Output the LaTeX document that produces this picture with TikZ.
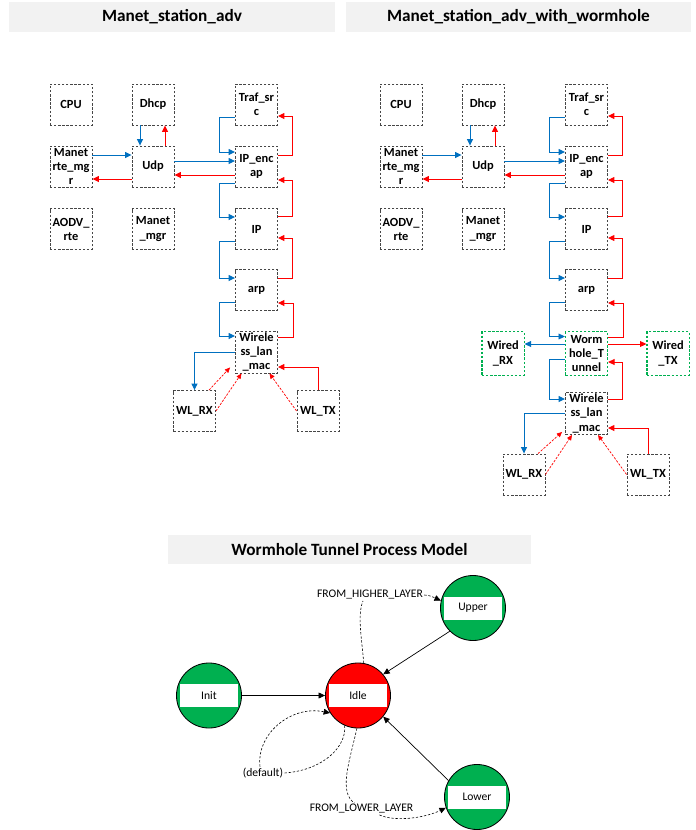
\documentclass[tikz,border=0pt]{standalone}
\usepackage{fontspec}
\setmainfont{Carlito}
\usetikzlibrary{arrows.meta,calc}
\definecolor{lineblue}{RGB}{0,112,192}
\definecolor{linered}{RGB}{255,0,0}
\definecolor{stgreen}{RGB}{0,176,80}
\definecolor{titlebg}{RGB}{242,242,242}
\definecolor{boxgray}{RGB}{70,70,70}

\begin{document}
\begin{tikzpicture}[x=0.03cm,y=-0.03cm,
    >={Triangle[length=5.5pt,width=5pt]},
    title/.style={fill=titlebg,minimum height=25.6pt,
      font=\fontsize{14.7}{17}\selectfont\bfseries},
    mod/.style={draw=boxgray,dash pattern=on 2pt off 1.5pt,line width=0.7pt,
      fill=white,minimum width=35.9pt,minimum height=35pt,inner sep=1.5pt,
      align=center,font=\fontsize{10.6}{12}\selectfont\bfseries},
    wmod/.style={mod,draw=stgreen,line width=0.9pt,minimum height=37pt},
    bl/.style={lineblue,line width=0.8pt,->},
    rd/.style={linered,line width=0.8pt,->},
    rdd/.style={linered,line width=0.6pt,dash pattern=on 2pt off 1.2pt,
      -{Triangle[length=4.5pt,width=4pt]}},
    state/.style={circle,draw=black,line width=0.7pt,minimum size=55.5pt,
      inner sep=0pt,font=\fontsize{9.9}{12}\selectfont,
      path picture={\fill[white]
        ($(path picture bounding box.center)+(-29,-11.5)$) rectangle
        ($(path picture bounding box.center)+(29,11.5)$);}},
    trans/.style={black,line width=0.5pt,dash pattern=on 2pt off 1.5pt,->},
    tlabel/.style={inner sep=1pt,font=\fontsize{9.9}{12}\selectfont}
  ]
  \useasboundingbox (0,0) rectangle (696,830);
  \fill[white] (0,0) rectangle (696,830);

  % left station
  \node[title,minimum width=278.3pt] (t1) at (172,17) {Manet\_station\_adv};
  \node[mod] (cpu) at (71,104.5) {CPU};
  \node[mod] (dhcp) at (153,104.5) {Dhcp};
  \node[mod] (traf) at (256.5,104.5) {Traf\_sr\\c};
  \node[mod] (rtemgr) at (71,166.5) {Manet\\rte\_mg\\r};
  \node[mod] (udp) at (153,166.5) {Udp};
  \node[mod] (ipenc) at (256.5,166.5) {IP\_enc\\ap};
  \node[mod] (aodv) at (71,229) {AODV\_\\rte};
  \node[mod] (mgr) at (153,229) {Manet\\\_mgr};
  \node[mod] (ip) at (256.5,229) {IP};
  \node[mod] (arp) at (256.5,290) {arp};
  \node[mod] (wlan) at (256.5,352) {Wirele\\ss\_lan\\\_mac};
  \node[mod] (wlrx) at (194.5,411) {WL\_RX};
  \node[mod] (wltx) at (318,411) {WL\_TX};

  \draw[bl] ($(dhcp.south)+(-13,0)$) -- ($(udp.north)+(-13,0)$);
  \draw[rd] ($(udp.north)+(12,0)$) -- ($(dhcp.south)+(12,0)$);
  \draw[bl] ($(rtemgr.east)+(0,-11.5)$) -- ($(udp.west)+(0,-11.5)$);
  \draw[rd] ($(udp.west)+(0,12.5)$) -- ($(rtemgr.east)+(0,12.5)$);
  \draw[bl] ($(udp.east)+(0,-5.5)$) -- ($(ipenc.west)+(0,-5.5)$);
  \draw[rd] ($(ipenc.west)+(0,8.5)$) -- ($(udp.east)+(0,8.5)$);
  \draw[bl] ($(traf.west)+(0,12.5)$) -- ++(-16,0) |- ($(ipenc.west)+(0,-14.5)$);
  \draw[rd] ($(ipenc.east)+(0,-11.5)$) -- ++(15,0) |- ($(traf.east)+(0,11.5)$);
  \draw[bl] ($(ipenc.west)+(0,16.5)$) -- ++(-16,0) |- ($(ip.west)+(0,-12)$);
  \draw[rd] ($(ip.east)+(0,-13)$) -- ++(15,0) |- ($(ipenc.east)+(0,13.5)$);
  \draw[bl] ($(ip.west)+(0,12)$) -- ++(-16,0) |- ($(arp.west)+(0,-12)$);
  \draw[rd] ($(arp.east)+(0,-12)$) -- ++(15,0) |- ($(ip.east)+(0,9)$);
  \draw[bl] ($(arp.west)+(0,12)$) -- ++(-16,0) |- ($(wlan.west)+(0,-16)$);
  \draw[rd] ($(wlan.east)+(0,-15)$) -- ++(16,0) |- ($(arp.east)+(0,13)$);
  \draw[bl] (wlan.west) -| (wlrx.north);
  \draw[rd] (wltx.north) |- ($(wlan.east)+(0,15)$);
  \draw[rdd] ($(wlrx.north)+(14.5,0)$) -- ($(wlan.south west)+(-5,-6)$);
  \draw[rdd] (wlrx.east) -- ($(wlan.south)+(-15,0)$);
  \draw[rdd] (wltx.west) -- ($(wlan.south)+(13,0)$);

  % right station
  \node[title,minimum width=294.5pt] (t2) at (518.5,17) {Manet\_station\_adv\_with\_wormhole};
  \node[mod] (wcpu) at (401,104.5) {CPU};
  \node[mod] (wdhcp) at (483,104.5) {Dhcp};
  \node[mod] (wtraf) at (586.5,104.5) {Traf\_sr\\c};
  \node[mod] (wrtemgr) at (401,166.5) {Manet\\rte\_mg\\r};
  \node[mod] (wudp) at (483,166.5) {Udp};
  \node[mod] (wipenc) at (586.5,166.5) {IP\_enc\\ap};
  \node[mod] (waodv) at (401,229) {AODV\_\\rte};
  \node[mod] (wmgr) at (483,229) {Manet\\\_mgr};
  \node[mod] (wip) at (586.5,229) {IP};
  \node[mod] (warp) at (586.5,290) {arp};
  \node[wmod] (worm) at (586.5,353.5) {Worm\\hole\_T\\unnel};
  \node[wmod] (wiredrx) at (503,353.5) {Wired\\\_RX};
  \node[wmod] (wiredtx) at (668,353.5) {Wired\\\_TX};
  \node[mod] (wwlan) at (586.5,413.5) {Wirele\\ss\_lan\\\_mac};
  \node[mod] (wwlrx) at (524,474.5) {WL\_RX};
  \node[mod] (wwltx) at (648,474.5) {WL\_TX};

  \draw[bl] ($(wdhcp.south)+(-13,0)$) -- ($(wudp.north)+(-13,0)$);
  \draw[rd] ($(wudp.north)+(12,0)$) -- ($(wdhcp.south)+(12,0)$);
  \draw[bl] ($(wrtemgr.east)+(0,-11.5)$) -- ($(wudp.west)+(0,-11.5)$);
  \draw[rd] ($(wudp.west)+(0,12.5)$) -- ($(wrtemgr.east)+(0,12.5)$);
  \draw[bl] ($(wudp.east)+(0,-5.5)$) -- ($(wipenc.west)+(0,-5.5)$);
  \draw[rd] ($(wipenc.west)+(0,8.5)$) -- ($(wudp.east)+(0,8.5)$);
  \draw[bl] ($(wtraf.west)+(0,12.5)$) -- ++(-16,0) |- ($(wipenc.west)+(0,-14.5)$);
  \draw[rd] ($(wipenc.east)+(0,-11.5)$) -- ++(15,0) |- ($(wtraf.east)+(0,11.5)$);
  \draw[bl] ($(wipenc.west)+(0,16.5)$) -- ++(-16,0) |- ($(wip.west)+(0,-12)$);
  \draw[rd] ($(wip.east)+(0,-13)$) -- ++(15,0) |- ($(wipenc.east)+(0,13.5)$);
  \draw[bl] ($(wip.west)+(0,12)$) -- ++(-16,0) |- ($(warp.west)+(0,-12)$);
  \draw[rd] ($(warp.east)+(0,-12)$) -- ++(15,0) |- ($(wip.east)+(0,9)$);
  \draw[bl] ($(warp.west)+(0,12)$) -- ++(-16,0) |- ($(worm.west)+(0,-17)$);
  \draw[rd] ($(worm.east)+(0,-16.5)$) -- ++(15,0) |- ($(warp.east)+(0,13)$);
  \draw[bl] ($(worm.west)+(0,-9.5)$) -- ($(wiredrx.east)+(0,-9.5)$);
  \draw[rd] ($(worm.east)+(0,-9.5)$) -- ($(wiredtx.west)+(0,-9.5)$);
  \draw[bl] ($(worm.west)+(0,5.5)$) -- ++(-15,0) |- ($(wwlan.west)+(0,-14.5)$);
  \draw[rd] ($(wwlan.east)+(0,-14.5)$) -- ++(15,0) |- ($(worm.east)+(0,8.5)$);
  \draw[bl] (wwlan.west) -| (wwlrx.north);
  \draw[rd] (wwltx.north) |- ($(wwlan.east)+(0,14.5)$);
  \draw[rdd] ($(wwlrx.north)+(14,0)$) -- ($(wwlan.south west)+(-3,-3)$);
  \draw[rdd] (wwlrx.east) -- ($(wwlan.south)+(-14.5,0)$);
  \draw[rdd] (wwltx.west) -- ($(wwlan.south)+(11.5,0)$);

  % process model
  \node[title,minimum width=309.9pt,minimum height=24.8pt] (t3) at (349.5,549.5) {Wormhole Tunnel Process Model};
  \node[state,fill=stgreen] (init) at (209,695.5) {Init};
  \node[state,fill=linered] (idle) at (358,695.5) {Idle};
  \node[state,fill=stgreen] (upper) at (473,608) {Upper};
  \node[state,fill=stgreen] (lower) at (477,797) {Lower};
  \node[tlabel] (hl) at (370,595) {FROM\_HIGHER\_LAYER};
  \node[tlabel] (dflt) at (263,773) {(default)};
  \node[tlabel] (ll) at (361.5,809) {FROM\_LOWER\_LAYER};

  \draw[->,line width=0.6pt] (init) -- (idle);
  \draw[->,line width=0.6pt] (upper.225) -- (idle.40);
  \draw[->,line width=0.6pt] (lower.150) -- (idle.320);
  \draw[trans,-] (idle.80) .. controls (362,640) and (357,615) .. ($(hl.south)+(-7,0)$);
  \draw[trans] (hl.east) .. controls (430,595) and (435,598) .. (upper.167);
  \draw[trans,-] (idle.246) .. controls (347,745) and (325,770) .. (dflt.east);
  \draw[trans] ($(dflt.north)+(-3,0)$) .. controls (256,735) and (290,705) .. (idle.212);
  \draw[trans,-] (idle.268) .. controls (350,760) and (338,792) .. ($(ll.north)+(-7,0)$);
  \draw[trans] ($(ll.south)+(18,0)$) .. controls (395,822) and (425,818) .. (lower.199);
\end{tikzpicture}
\end{document}
